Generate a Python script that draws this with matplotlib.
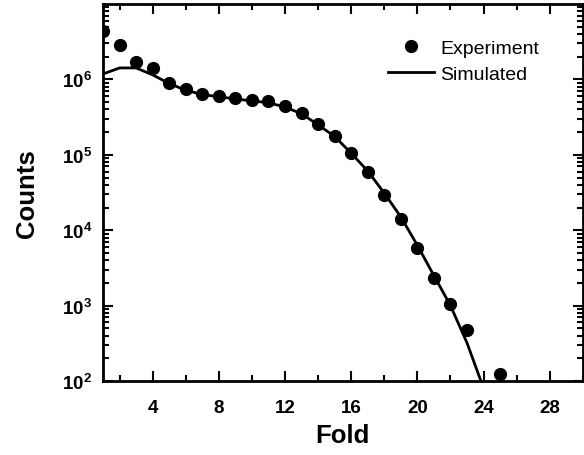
import matplotlib
matplotlib.use("Agg")
import matplotlib.pyplot as plt
from matplotlib.ticker import MultipleLocator, LogLocator, NullFormatter, FixedLocator

plt.rcParams["font.family"] = ["Liberation Sans", "DejaVu Sans"]

# experiment data
exp_fold = [1, 2, 3, 4, 5, 6, 7, 8, 9, 10, 11, 12, 13, 14, 15, 16, 17, 18,
            19, 20, 21, 22, 23, 25]
exp_counts = [4.4e6, 2.9e6, 1.72e6, 1.4e6, 8.9e5, 7.4e5, 6.4e5, 6.0e5,
              5.6e5, 5.3e5, 5.1e5, 4.4e5, 3.6e5, 2.6e5, 1.78e5, 1.07e5,
              6.0e4, 2.9e4, 1.4e4, 5.8e3, 2.3e3, 1.05e3, 4.8e2, 1.24e2]

# simulated curve
sim_fold = [1, 2, 3, 4, 5, 6, 7, 8, 9, 10, 11, 12, 13, 14, 15, 16, 17, 18,
            19, 20, 21, 22, 23, 24]
sim_counts = [1.18e6, 1.42e6, 1.42e6, 1.15e6, 8.8e5, 7.2e5, 6.3e5, 5.9e5,
              5.5e5, 5.2e5, 4.9e5, 4.3e5, 3.5e5, 2.5e5, 1.75e5, 1.05e5,
              6.1e4, 3.1e4, 1.5e4, 6.3e3, 2.5e3, 1.0e3, 3.2e2, 8.0e1]

y_major = [1e2, 1e3, 1e4, 1e5, 1e6]

fig = plt.figure(figsize=(5.84, 4.56), dpi=100)
ax = fig.add_axes([0.1764, 0.1623, 0.8216, 0.8267])

ax.plot(exp_fold, exp_counts, "o", color="black", markersize=8.5,
        label="Experiment")
ax.plot(sim_fold, sim_counts, "-", color="black", linewidth=2,
        label="Simulated")

ax.set_yscale("log")
ax.set_xlim(1, 30)
ax.set_ylim(1e2, 1e7)

ax.xaxis.set_major_locator(MultipleLocator(4))
ax.xaxis.set_minor_locator(MultipleLocator(2))
ax.yaxis.set_major_locator(FixedLocator(y_major))
ax.yaxis.set_minor_locator(LogLocator(base=10, subs=range(2, 10), numticks=20))
ax.yaxis.set_minor_formatter(NullFormatter())

ax.tick_params(which="both", direction="in", top=True, right=True,
               width=1.5, labelsize=13.5)
ax.tick_params(which="major", length=7.5)
ax.tick_params(which="minor", length=4)
ax.tick_params(axis="x", which="major", pad=13)
ax.tick_params(axis="y", which="major", pad=8)
for lbl in ax.get_xticklabels() + ax.get_yticklabels():
    lbl.set_fontweight("bold")
for sp in ax.spines.values():
    sp.set_linewidth(2)

ax.set_xlabel("Fold", fontsize=18.5, fontweight="bold", labelpad=5)
ax.set_ylabel("Counts", fontsize=18.5, fontweight="bold", labelpad=16)

ax.legend(loc="upper right", frameon=False, fontsize=14,
          bbox_to_anchor=(0.945, 0.953), handlelength=2.4, handletextpad=0.3,
          labelspacing=0.45)

fig.savefig("out.png", dpi=100)
